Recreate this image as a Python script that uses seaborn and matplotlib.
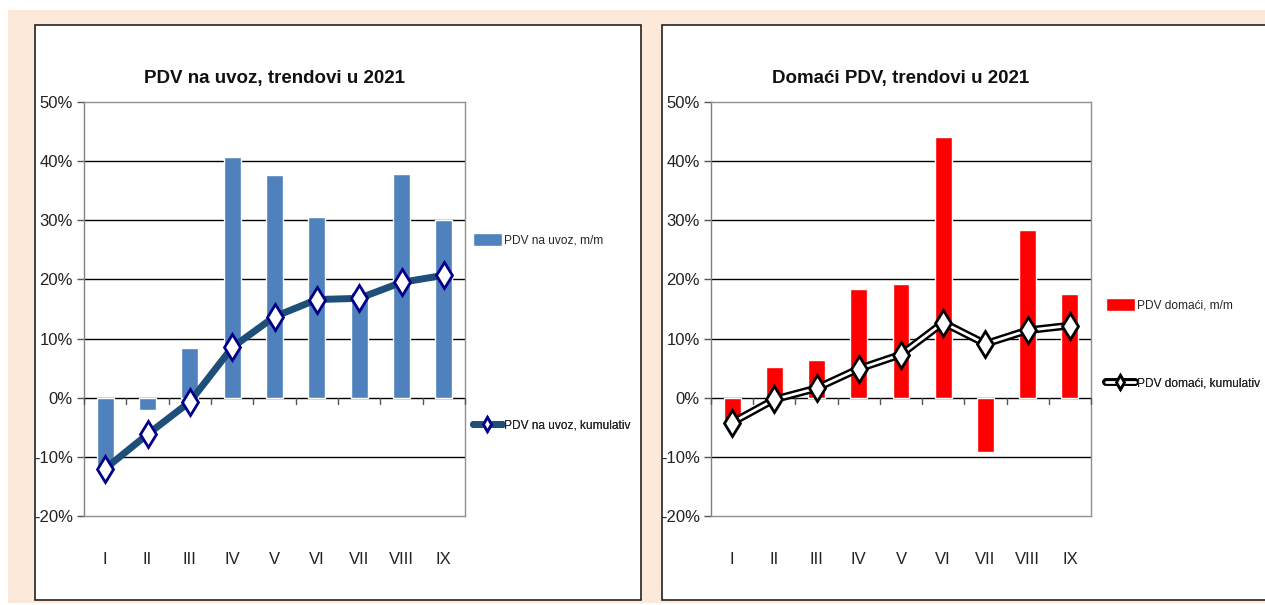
import matplotlib
matplotlib.use("Agg")
import matplotlib.pyplot as plt
import seaborn as sns
import pandas as pd
from matplotlib.patches import Rectangle
from matplotlib.ticker import FuncFormatter, FixedLocator
from matplotlib import font_manager

months = ["I", "II", "III", "IV", "V", "VI", "VII", "VIII", "IX"]
uvoz_mm = [-12.0, -2.0, 8.4, 40.7, 37.6, 30.6, 17.9, 37.8, 30.1]
uvoz_kum = [-12.0, -6.2, -0.7, 8.5, 13.7, 16.6, 16.8, 19.5, 20.7]
domaci_mm = [-4.1, 5.2, 6.3, 18.4, 19.2, 44.0, -9.2, 28.4, 17.6]
domaci_kum = [-4.2, -0.3, 1.6, 4.9, 7.3, 12.7, 9.1, 11.4, 12.2]
yticks = [-20, -10, 0, 10, 20, 30, 40, 50]

sns.set_theme(style="white")
available = {f.name for f in font_manager.fontManager.ttflist}
FONT = [f for f in ["Liberation Sans Narrow", "Liberation Sans", "DejaVu Sans"] if f in available]
plt.rcParams["font.family"] = FONT
NARROW = "Liberation Sans Narrow" in available

W, H = 1265, 605
fig = plt.figure(figsize=(W / 100, H / 100), dpi=100)
fig.patch.set_facecolor("white")

def fx(x):
    return x / W

def fy(y):
    return 1 - y / H

# peach background
fig.patches.append(Rectangle((fx(8), fy(603)), fx(1265 - 8), (603 - 10) / H,
                             transform=fig.transFigure, facecolor="#FDE9D9",
                             edgecolor="none", zorder=-3))
# panels
for (x0, x1) in [(35, 641), (662, 1275)]:
    fig.patches.append(Rectangle((fx(x0), fy(600)), fx(x1 - x0), (600 - 25) / H,
                                 transform=fig.transFigure, facecolor="white",
                                 edgecolor="#222222", linewidth=1.2, zorder=-2))

df_u = pd.DataFrame({"m": months, "mm": uvoz_mm, "kum": uvoz_kum})
df_d = pd.DataFrame({"m": months, "mm": domaci_mm, "kum": domaci_kum})

TICK_FS = 13 if NARROW else 12
LEG_FS = 10.5 if NARROW else 8.6


def style_axes(ax, title):
    ax.set_facecolor("none")
    ax.set_ylim(-20, 50)
    ax.set_xlim(-0.5, len(months) - 0.5)
    ax.yaxis.set_major_locator(FixedLocator(yticks))
    ax.yaxis.set_major_formatter(FuncFormatter(lambda v, p: f"{v:.0f}%"))
    ax.grid(False)
    for v in yticks[1:-1]:
        ax.axhline(v, color="black", linewidth=1.0, zorder=0.5)
    for s in ["top", "right", "bottom"]:
        ax.spines[s].set_color("#909090")
        ax.spines[s].set_linewidth(1.0)
    ax.spines["left"].set_color("#808080")
    ax.spines["left"].set_linewidth(1.0)
    ax.tick_params(axis="y", which="major", left=True, length=5, width=1,
                   color="#555555", labelsize=TICK_FS, pad=3, labelcolor="#222222")
    ax.tick_params(axis="x", bottom=False, labelsize=TICK_FS, pad=20, labelcolor="#222222")
    for i in range(len(months) + 1):
        ax.plot([i - 0.5, i - 0.5], [0, -1.0], color="#555555", linewidth=1,
                zorder=3, clip_on=False)
    ax.set_xlabel("")
    ax.set_ylabel("")
    ax.set_title(title, fontsize=14.5 if NARROW else 13.5, fontweight="bold", pad=14,
                 color="#111111")


def add_legend(ax, handle, label, x, y, **kw):
    leg = ax.legend([handle], [label], loc="center left", bbox_to_anchor=(fx(x), fy(y)),
                    bbox_transform=fig.transFigure, frameon=False, fontsize=LEG_FS,
                    handlelength=2.4, handletextpad=0.2, borderaxespad=0, borderpad=0,
                    **kw)
    ax.add_artist(leg)
    return leg


# ---- left chart ----
axL = fig.add_axes([fx(84), fy(516), fx(465 - 84), (516 - 102) / H])
sns.barplot(data=df_u, x="m", y="mm", color="#4F81BD", saturation=1, width=0.4,
            ax=axL, label="PDV na uvoz, m/m", zorder=2)
sns.lineplot(data=df_u, x="m", y="kum", color="#1F4E79", linewidth=5, marker="d",
             markersize=13, markerfacecolor="white", markeredgecolor="#00008B",
             markeredgewidth=2, ax=axL, label="PDV na uvoz, kumulativ", zorder=4,
             sort=False)
style_axes(axL, "PDV na uvoz, trendovi u 2021")
hL, lL = axL.get_legend_handles_labels()
dL = dict(zip(lL, hL))
if axL.get_legend():
    axL.get_legend().remove()
add_legend(axL, dL["PDV na uvoz, m/m"], "PDV na uvoz, m/m", 473, 240, handleheight=1.3)
add_legend(axL, dL["PDV na uvoz, kumulativ"], "PDV na uvoz, kumulativ", 473, 425,
           markerscale=0.55)

# ---- right chart ----
axR = fig.add_axes([fx(711), fy(516), fx(1091 - 711), (516 - 102) / H])
sns.barplot(data=df_d, x="m", y="mm", color="#FF0000", saturation=1, width=0.4,
            ax=axR, label="PDV domaći, m/m", zorder=2)
sns.lineplot(data=df_d, x="m", y="kum", color="black", linewidth=5.5, ax=axR,
             zorder=4, sort=False, legend=False)
line_outer = axR.get_lines()[-1]
sns.lineplot(data=df_d, x="m", y="kum", color="white", linewidth=2, marker="d",
             markersize=13, markerfacecolor="white", markeredgecolor="black",
             markeredgewidth=2, ax=axR, zorder=5, sort=False, legend=False)
line_inner = axR.get_lines()[-1]
style_axes(axR, "Domaći PDV, trendovi u 2021")
hR, lR = axR.get_legend_handles_labels()
dR = dict(zip(lR, hR))
if axR.get_legend():
    axR.get_legend().remove()
add_legend(axR, dR["PDV domaći, m/m"], "PDV domaći, m/m", 1106, 305, handleheight=1.3)
add_legend(axR, (line_outer, line_inner), "PDV domaći, kumulativ", 1106, 383,
           markerscale=0.55)

fig.savefig("out.png", dpi=100, facecolor=fig.get_facecolor())
